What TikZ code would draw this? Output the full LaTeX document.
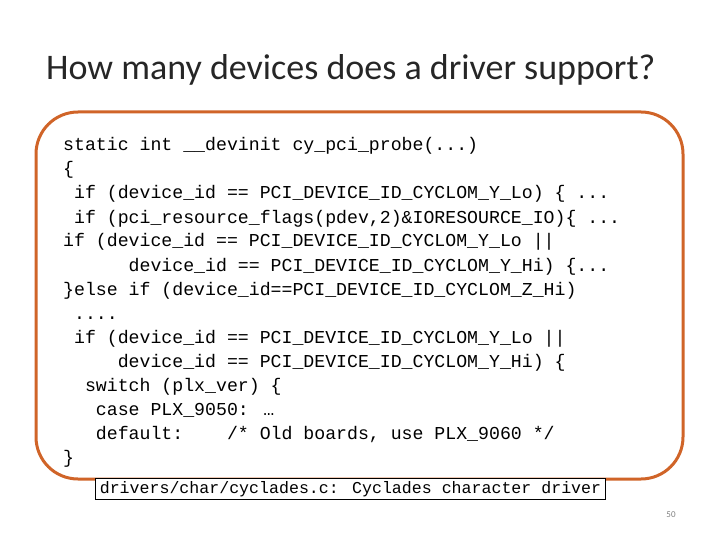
\documentclass[tikz,border=0pt]{standalone}
\usepackage{fontspec}
\setmainfont{Carlito}
\newfontfamily\code{Liberation Mono}
\definecolor{frame}{RGB}{208,100,40}
\begin{document}
\begin{tikzpicture}[x=1pt,y=-1pt,
  codeline/.style={anchor=base west,inner sep=0pt,font=\code\fontsize{18.2}{20}\selectfont},
  capbox/.style={draw=black,fill=white,line width=0.8pt,inner xsep=4pt,inner ysep=3pt,font=\code\fontsize{16.6}{18}\selectfont}]
\useasboundingbox (0,0) rectangle (720,540);
\node[anchor=base west,inner sep=0pt,font=\fontsize{36}{40}\selectfont,text=black!85] (title) at (46,80) {How many devices does a driver support?};
\draw[frame,line width=3pt,rounded corners=42pt] (36,112) rectangle (683,479);
\def\cw{10.92}
\foreach \n/\ind/\t in {
 0/0/{static int \_\_devinit cy\_pci\_probe(...)},
 1/0/{\{},
 2/1/{if (device\_id == PCI\_DEVICE\_ID\_CYCLOM\_Y\_Lo) \{ ...},
 3/1/{if (pci\_resource\_flags(pdev,2)\&IORESOURCE\_IO)\{ ...},
 4/0/{if (device\_id == PCI\_DEVICE\_ID\_CYCLOM\_Y\_Lo ||},
 5/6/{device\_id == PCI\_DEVICE\_ID\_CYCLOM\_Y\_Hi) \{...},
 6/0/{\}else if (device\_id==PCI\_DEVICE\_ID\_CYCLOM\_Z\_Hi)},
 7/1/{....},
 8/1/{if (device\_id == PCI\_DEVICE\_ID\_CYCLOM\_Y\_Lo ||},
 9/5/{device\_id == PCI\_DEVICE\_ID\_CYCLOM\_Y\_Hi) \{},
 10/2/{switch (plx\_ver) \{},
 11/3/{case PLX\_9050: …},
 12/3/{default:\ \ \ \ /* Old boards, use PLX\_9060 */},
 13/0/{\}}}
 \node[codeline] (l\n) at ({63+\ind*\cw},{151+\n*24}) {\t};
\node[capbox] (cap) at (350.5,489) {drivers/char/cyclades.c: Cyclades character driver};
\node[font=\fontsize{9}{10}\selectfont,text=black!50] (pg) at (671,515) {50};
\end{tikzpicture}
\end{document}
